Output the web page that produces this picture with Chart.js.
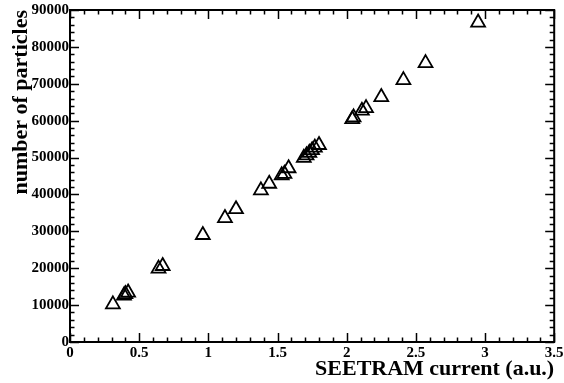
<!DOCTYPE html>
<html>
<head>
<meta charset="utf-8">
<script src="https://cdn.jsdelivr.net/npm/chart.js@4.4.1/dist/chart.umd.min.js"></script>
<style>
  html, body { margin: 0; padding: 0; background: #fff; }
  #wrap { width: 564px; height: 383px; }
</style>
</head>
<body>
<div id="wrap"><canvas id="scatterChart" width="564" height="383"></canvas></div>
<script>
// SEETRAM calibration: beam current vs counted particles
const seetramCurrent = [0.31, 0.39, 0.40, 0.42, 0.64, 0.67, 0.96, 1.12, 1.20, 1.38, 1.44,
  1.53, 1.55, 1.58, 1.69, 1.71, 1.73, 1.75, 1.77, 1.80, 2.04, 2.05, 2.11, 2.14,
  2.25, 2.41, 2.57, 2.95];
const particleCount = [10200, 12600, 13000, 13400, 19900, 20600, 29000, 33600, 36000, 41100, 42900,
  45200, 45600, 47100, 49900, 50600, 51300, 52000, 52700, 53400, 60400, 60900, 62700, 63400,
  66400, 71000, 75600, 86600];
const xTickLabels = ['0', '0.5', '1', '1.5', '2', '2.5', '3', '3.5'];
const yTickLabels = ['0', '10000', '20000', '30000', '40000', '50000', '60000', '70000', '80000', '90000'];

const points = seetramCurrent.map((x, i) => ({ x: x, y: particleCount[i] }));
const serif = "'Liberation Serif', 'DejaVu Serif', serif";

// ROOT-like frame: inward major/minor ticks on all four sides
const frameTicks = {
  id: 'frameTicks',
  afterDraw(chart) {
    const { ctx, chartArea: a, scales } = chart;
    const xs = scales.x, ys = scales.y;
    ctx.save();
    ctx.strokeStyle = '#000';
    ctx.lineWidth = 1.5;
    ctx.beginPath();
    for (let v = 0; v <= 3.5001; v += 0.1) {
      const major = Math.abs(v * 2 - Math.round(v * 2)) < 1e-6;
      const len = major ? 9 : 4.5;
      const px = Math.round(xs.getPixelForValue(v)) + 0.5;
      ctx.moveTo(px, a.bottom); ctx.lineTo(px, a.bottom - len);
      ctx.moveTo(px, a.top); ctx.lineTo(px, a.top + len);
    }
    for (let v = 0; v <= 90000; v += 2000) {
      const major = v % 10000 === 0;
      const len = major ? 9 : 4.5;
      const py = Math.round(ys.getPixelForValue(v)) + 0.5;
      ctx.moveTo(a.left, py); ctx.lineTo(a.left + len, py);
      ctx.moveTo(a.right, py); ctx.lineTo(a.right - len, py);
    }
    ctx.stroke();
    ctx.lineWidth = 2;
    ctx.strokeRect(a.left, a.top, a.right - a.left, a.bottom - a.top);
    ctx.restore();
  }
};

new Chart(document.getElementById('scatterChart').getContext('2d'), {
  type: 'scatter',
  data: {
    datasets: [{
      data: points,
      pointStyle: 'triangle',
      pointRadius: 8,
      pointHoverRadius: 8,
      pointBorderWidth: 1.8,
      borderColor: '#000',
      backgroundColor: 'rgba(0,0,0,0)'
    }]
  },
  options: {
    responsive: false,
    animation: false,
    layout: { padding: { left: 0, right: 9, top: 10, bottom: 0 } },
    plugins: { legend: { display: false }, tooltip: { enabled: false } },
    scales: {
      x: {
        type: 'linear',
        min: 0,
        max: 3.5,
        grid: { display: false, drawTicks: false },
        border: { display: false },
        ticks: {
          stepSize: 0.5,
          padding: 2,
          color: '#000',
          maxRotation: 0,
          font: { family: serif, size: 15, weight: 'bold' },
          callback: (v, i) => xTickLabels[i]
        },
        title: {
          display: true,
          text: 'SEETRAM current (a.u.)',
          align: 'end',
          color: '#000',
          padding: { top: 0, bottom: 0 },
          font: { family: serif, size: 22, weight: 'bold' }
        },
        afterFit(scale) { scale.height = 41; scale.paddingLeft = 0; scale.paddingRight = 0; }
      },
      y: {
        type: 'linear',
        min: 0,
        max: 90000,
        grid: { display: false, drawTicks: false },
        border: { display: false },
        ticks: {
          stepSize: 10000,
          padding: 1,
          color: '#000',
          font: { family: serif, size: 15, weight: 'bold' },
          callback: (v, i) => yTickLabels[i]
        },
        title: {
          display: true,
          text: 'number of particles',
          align: 'end',
          color: '#000',
          padding: { top: 8, bottom: 0 },
          font: { family: serif, size: 22, weight: 'bold' }
        },
        afterFit(scale) { scale.width = 70; scale.paddingTop = 0; scale.paddingBottom = 0; }
      }
    }
  },
  plugins: [frameTicks]
});
</script>
</body>
</html>
